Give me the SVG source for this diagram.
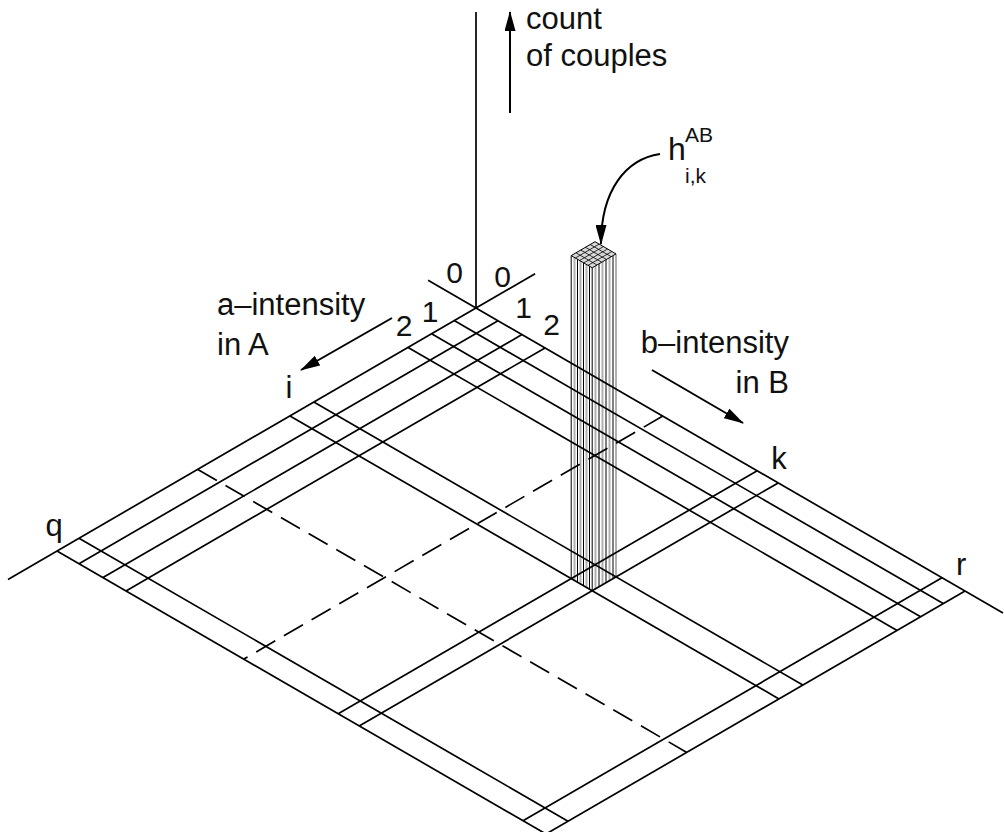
<svg xmlns="http://www.w3.org/2000/svg" width="1004" height="832" viewBox="0 0 1004 832">
<style>
.g{stroke:#000;stroke-width:1.7;fill:none;stroke-linecap:butt}
.d{stroke:#000;stroke-width:1.7;fill:none;stroke-dasharray:22 10}
.a{stroke:#000;stroke-width:2;fill:none}
.cb{stroke:#000;stroke-width:1}
.cg{stroke:#b0b0b0;stroke-width:2}
.m{stroke:#000;stroke-width:0.8;fill:none}
text{font-family:"Liberation Sans",Arial,Helvetica,sans-serif;fill:#111;font-size:31px}
.n{font-size:30px}
</style>
<defs>
<marker id="ah" markerWidth="20" markerHeight="11" refX="19" refY="5.5" orient="auto" markerUnits="userSpaceOnUse">
<path d="M0,0 L20,5.5 L0,11 z" fill="#000"/>
</marker>
</defs>
<rect width="1004" height="832" fill="#fff"/>
<g id="column">
<line class="cb" x1="571.2" y1="255.6" x2="571.2" y2="578.6"/>
<line class="cg" x1="574.5" y1="257.5" x2="574.5" y2="580.5"/>
<line class="cb" x1="577.5" y1="259.3" x2="577.5" y2="582.3"/>
<line class="cg" x1="580.5" y1="261" x2="580.5" y2="584"/>
<line class="cb" x1="583.5" y1="262.7" x2="583.5" y2="585.7"/>
<line class="cg" x1="586.5" y1="264.5" x2="586.5" y2="587.5"/>
<line class="cb" x1="589.5" y1="266.2" x2="589.5" y2="589.2"/>
<line class="cb" x1="592.2" y1="267.8" x2="592.2" y2="590.8"/>
<line class="cg" x1="595.5" y1="265.9" x2="595.5" y2="588.9"/>
<line class="cb" x1="599" y1="263.8" x2="599" y2="586.8"/>
<line class="cg" x1="602.5" y1="261.8" x2="602.5" y2="584.8"/>
<line class="cb" x1="606" y1="259.7" x2="606" y2="582.7"/>
<line class="cg" x1="609.5" y1="257.7" x2="609.5" y2="580.7"/>
<line class="cb" x1="613" y1="255.7" x2="613" y2="578.7"/>
<line class="cg" x1="616" y1="253.9" x2="616" y2="576.9"/>
<polygon points="595,241.7 616,253.9 592.2,267.8 571.2,255.6" fill="#d8d8d8" stroke="#000" stroke-width="1"/>
<path class="m" d="M599.2,244.1L575.4,258M603.4,246.6L579.6,260.5M607.6,249L583.8,262.9M611.8,251.5L588,265.4M590.2,244.5L611.2,256.7M585.5,247.3L606.5,259.5M580.7,250L601.7,262.2M576,252.8L597,265"/>
</g>
<g id="grid">
<line class="g" x1="476" y1="12" x2="476" y2="308"/>
<line class="g" x1="428.1" y1="280.3" x2="1003" y2="613"/>
<line class="g" x1="454.2" y1="320.6" x2="943.2" y2="603.6"/>
<line class="g" x1="431.6" y1="333.8" x2="920.6" y2="616.8"/>
<line class="g" x1="408.1" y1="347.4" x2="897.1" y2="630.4"/>
<line class="g" x1="313.8" y1="402" x2="802.8" y2="685"/>
<line class="g" x1="290" y1="415.9" x2="779" y2="698.9"/>
<line class="d" x1="197.8" y1="469.4" x2="686.8" y2="752.4"/>
<line class="g" x1="79" y1="538.2" x2="568" y2="821.2"/>
<line class="g" x1="57" y1="551" x2="546" y2="834"/>
<line class="g" x1="535.1" y1="273.7" x2="8" y2="579.4"/>
<line class="g" x1="498" y1="320.7" x2="79" y2="563.7"/>
<line class="g" x1="522" y1="334.6" x2="103" y2="577.6"/>
<line class="g" x1="545" y1="347.9" x2="126" y2="590.9"/>
<line class="d" x1="662.8" y1="416.1" x2="243.8" y2="659.1"/>
<line class="g" x1="757.2" y1="470.7" x2="338.2" y2="713.7"/>
<line class="g" x1="778.2" y1="482.9" x2="359.2" y2="725.9"/>
<line class="g" x1="942" y1="577.7" x2="523" y2="820.7"/>
<line class="g" x1="965" y1="591" x2="546" y2="834"/>
</g>
<g id="arrows">
<line class="a" x1="510" y1="113" x2="510" y2="12" marker-end="url(#ah)"/>
<line class="a" x1="392" y1="318" x2="301" y2="370" marker-end="url(#ah)"/>
<line class="a" x1="652" y1="370" x2="743" y2="423" marker-end="url(#ah)"/>
<path class="a" d="M660,154 C626,159 601,190 601,244" marker-end="url(#ah)"/>
</g>
<g id="labels">
<text x="526" y="29">count</text>
<text x="526" y="66">of couples</text>
<text x="217" y="315">a–intensity</text>
<text x="217" y="355">in A</text>
<text x="789" y="353" text-anchor="end">b–intensity</text>
<text x="789" y="393" text-anchor="end">in B</text>
<text x="289" y="398" text-anchor="middle">i</text>
<text x="779" y="469" text-anchor="middle">k</text>
<text x="54" y="536" text-anchor="middle">q</text>
<text x="956" y="575">r</text>
<text class="n" x="454.5" y="283" text-anchor="middle">0</text>
<text class="n" x="502.5" y="287" text-anchor="middle">0</text>
<text class="n" x="430" y="322" text-anchor="middle">1</text>
<text class="n" x="404" y="336" text-anchor="middle">2</text>
<text class="n" x="523.5" y="318" text-anchor="middle">1</text>
<text class="n" x="551.5" y="335" text-anchor="middle">2</text>
<text x="668" y="160" style="font-size:32px">h</text>
<text x="685" y="142" style="font-size:21px">AB</text>
<text x="685" y="183" style="font-size:21px">i,k</text>
</g>
</svg>
